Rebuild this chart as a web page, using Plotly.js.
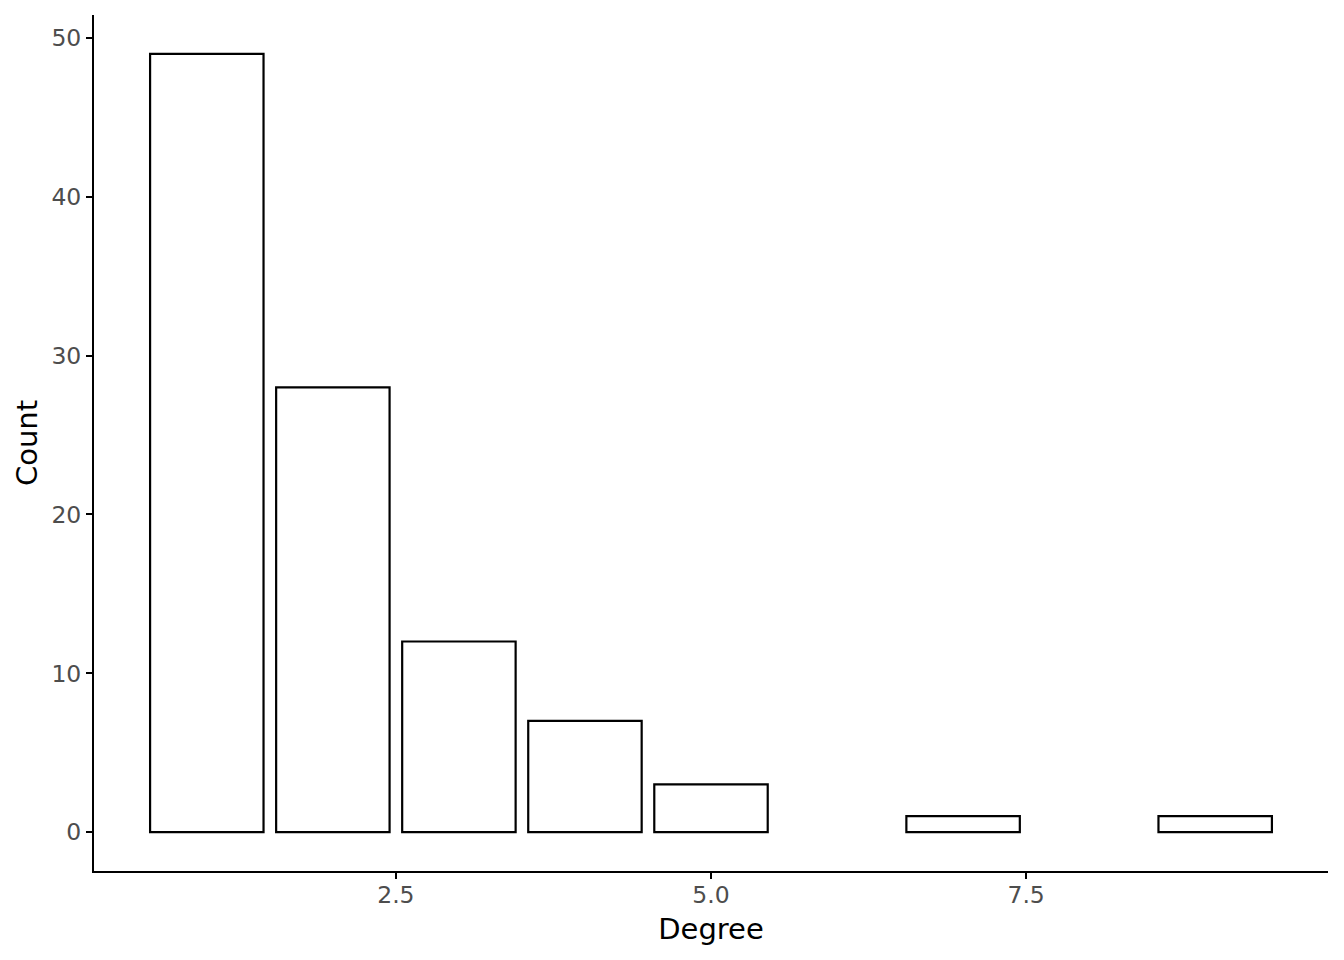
<!DOCTYPE html>
<html>
<head>
<meta charset="utf-8">
<script src="https://cdn.plot.ly/plotly-3.0.1.min.js"></script>
<style>html,body{margin:0;padding:0;background:#fff;}#chart{width:1344px;height:960px;}</style>
</head>
<body>
<div id="chart"></div>
<script>
const degree = [1, 2, 3, 4, 5, 7, 9];
const count = [49, 28, 12, 7, 3, 1, 1];
const xTicks = [2.5, 5.0, 7.5];
const xTickLabels = ["2.5", "5.0", "7.5"];
const yTicks = [0, 10, 20, 30, 40, 50];

const trace = {
  type: 'bar',
  x: degree,
  y: count,
  width: 0.9,
  marker: {color: '#ffffff', line: {color: '#000000', width: 2.2}},
  hoverinfo: 'x+y'
};

const layout = {
  width: 1344, height: 960,
  margin: {l: 94, r: 16, t: 15, b: 89},
  paper_bgcolor: '#ffffff', plot_bgcolor: '#ffffff',
  showlegend: false,
  font: {family: 'DejaVu Sans, sans-serif', color: '#000000'},
  xaxis: {
    range: [0.105, 9.895],
    tickmode: 'array', tickvals: xTicks, ticktext: xTickLabels,
    ticks: 'outside', ticklen: 6, tickwidth: 2, tickcolor: '#000',
    showline: true, linecolor: '#000', linewidth: 2,
    showgrid: false, zeroline: false,
    ticklabelstandoff: -4,
    tickfont: {size: 23.5, color: '#4d4d4d', family: 'DejaVu Sans, sans-serif'},
    title: {text: 'Degree', font: {size: 29, color: '#000'}, standoff: 10}
  },
  yaxis: {
    range: [-2.45, 51.45],
    tickmode: 'array', tickvals: yTicks,
    ticks: 'outside', ticklen: 6, tickwidth: 2, tickcolor: '#000',
    showline: true, linecolor: '#000', linewidth: 2,
    showgrid: false, zeroline: false,
    ticklabelstandoff: 0,
    tickfont: {size: 23.5, color: '#4d4d4d', family: 'DejaVu Sans, sans-serif'},
    title: {text: 'Count', font: {size: 29, color: '#000'}, standoff: 5}
  }
};

Plotly.newPlot('chart', [trace], layout, {displayModeBar: false, staticPlot: true});
</script>
</body>
</html>
